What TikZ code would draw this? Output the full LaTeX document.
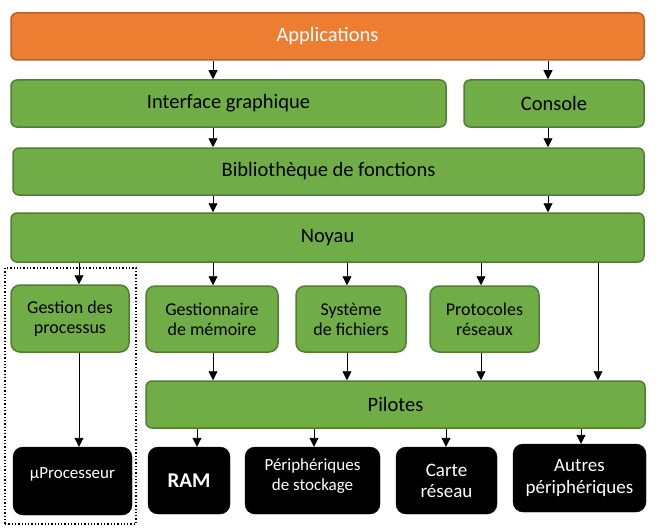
\documentclass[tikz,border=0pt]{standalone}
\usepackage{fontspec}
\setmainfont{Carlito}
\usepackage{tikz}
\usetikzlibrary{arrows.meta,positioning}
\definecolor{appfill}{HTML}{ED7D31}
\definecolor{appline}{HTML}{B8602A}
\definecolor{grfill}{HTML}{70AD47}
\definecolor{grline}{HTML}{507E32}
\tikzset{
  box/.style={draw=grline,line width=1.5pt,rounded corners=6pt,fill=grfill,align=center,
    font=\fontsize{20.5}{24}\selectfont,inner sep=2pt},
  smallbox/.style={box,rounded corners=9pt,font=\fontsize{18}{20}\selectfont},
  appbox/.style={box,draw=appline,fill=appfill,text=white},
  hwbox/.style={draw=black,fill=black,rounded corners=10pt,text=white,align=center,
    font=\fontsize{17}{20}\selectfont,inner sep=2pt},
  grp/.style={draw=black,dotted,line width=1.3pt},
  arr/.style={-{Triangle[length=9pt,width=9pt]},line width=0.9pt,draw=black},
}
\begin{document}
\begin{tikzpicture}[x=1pt,y=-1pt]
  \useasboundingbox (0,0) rectangle (663,532);
  % couches logicielles
  \node[appbox,minimum width=633,minimum height=47] (app) at (327.5,36.5) {Applications};
  \node[box,minimum width=435,minimum height=47] (ig) at (228.5,103.5) {Interface graphique};
  \node[box,minimum width=180,minimum height=47] (con) at (554,103.5) {Console};
  \node[box,minimum width=631,minimum height=47] (bib) at (328.5,171.5) {Biblioth\`eque de fonctions};
  \node[box,minimum width=633,minimum height=49] (noy) at (327.5,237.5) {Noyau};
  \node[grp,minimum width=131,minimum height=256] (grp) at (70.5,396) {};
  \node[smallbox,minimum width=118,minimum height=67] (gp) at (70,318.5) {Gestion des\\processus};
  \node[smallbox,minimum width=132,minimum height=66] (gm) at (212,319) {Gestionnaire\\de m\'emoire};
  \node[smallbox,minimum width=110,minimum height=66] (sf) at (351,319) {Syst\`eme\\de fichiers};
  \node[smallbox,minimum width=109,minimum height=66] (pr) at (484.5,319) {Protocoles\\r\'eseaux};
  \node[box,minimum width=499,minimum height=47] (pil) at (395.5,404.5) {Pilotes};
  % materiel
  \node[hwbox,minimum width=119,minimum height=68,text depth=16pt] (up) at (72.5,481) {\textmu Processeur};
  \node[hwbox,minimum width=82,minimum height=67,font=\fontsize{21}{24}\selectfont\bfseries] (ram) at (189,480.5) {RAM};
  \node[hwbox,minimum width=135,minimum height=67,text depth=11pt] (sto) at (312.5,480.5) {P\'eriph\'eriques\\de stockage};
  \node[hwbox,minimum width=101,minimum height=67,font=\fontsize{19}{21}\selectfont] (car) at (446.5,480.5) {Carte\\r\'eseau};
  \node[hwbox,minimum width=133,minimum height=68,font=\fontsize{19}{22}\selectfont] (aut) at (579.5,478) {Autres\\p\'eriph\'eriques};
  % fleches
  \draw[arr] (app.south -| 213,0) -- (ig.north -| 213,0);
  \draw[arr] (app.south -| 548,0) -- (con.north -| 548,0);
  \draw[arr] (ig.south -| 213,0) -- (bib.north -| 213,0);
  \draw[arr] (con.south -| 548,0) -- (bib.north -| 548,0);
  \draw[arr] (bib.south -| 213,0) -- (noy.north -| 213,0);
  \draw[arr] (bib.south -| 548,0) -- (noy.north -| 548,0);
  \draw[arr] (noy.south -| 79,0) -- (gp.north -| 79,0);
  \draw[arr] (noy.south -| 213,0) -- (gm.north -| 213,0);
  \draw[arr] (noy.south -| 347,0) -- (sf.north -| 347,0);
  \draw[arr] (noy.south -| 481,0) -- (pr.north -| 481,0);
  \draw[arr] (noy.south -| 598,0) -- (pil.north -| 598,0);
  \draw[arr] (gp.south -| 79,0) -- (up.north -| 79,0);
  \draw[arr] (gm.south -| 213,0) -- (pil.north -| 213,0);
  \draw[arr] (sf.south -| 347,0) -- (pil.north -| 347,0);
  \draw[arr] (pr.south -| 481,0) -- (pil.north -| 481,0);
  \draw[arr] (pil.south -| 197,0) -- (ram.north -| 197,0);
  \draw[arr] (pil.south -| 314,0) -- (sto.north -| 314,0);
  \draw[arr] (pil.south -| 446,0) -- (car.north -| 446,0);
  \draw[arr] (pil.south -| 581,0) -- (aut.north -| 581,0);
\end{tikzpicture}
\end{document}
